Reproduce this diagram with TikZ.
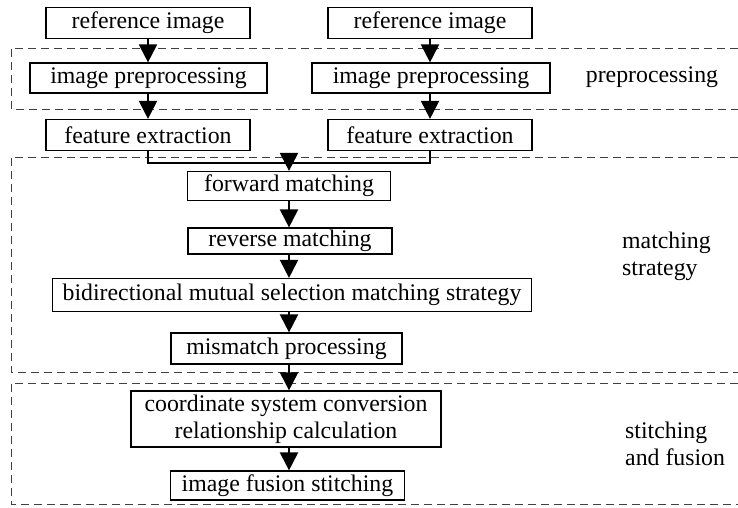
\documentclass[tikz,border=0pt]{standalone}
\usepackage{fontspec}
\setmainfont{Liberation Serif}
\usetikzlibrary{arrows.meta}
\begin{document}
\begin{tikzpicture}[x=1pt,y=-1pt,
  font=\fontsize{23.8}{27}\selectfont,
  box/.style={draw=black,line width=1.2pt,inner sep=0pt,align=center},
  arr/.style={line width=2pt,-{Triangle[length=18pt,width=18pt]}},
  grp/.style={draw=black!75,line width=1pt,dash pattern=on 8pt off 5pt},
  lbl/.style={inner sep=0pt,align=left}]
\useasboundingbox (0,0) rectangle (738,507);
% group frames
\draw[grp] (738,48) -- (11,48) -- (11,109) -- (738,109);
\draw[grp] (738,157) -- (11,157) -- (11,372) -- (738,372);
\draw[grp] (738,383) -- (11,383) -- (11,504) -- (738,504);
% nodes
\node[box,minimum width=204pt,minimum height=31pt] (refL) at (148,23) {reference image};
\node[box,minimum width=204pt,minimum height=31pt] (refR) at (430,23) {reference image};
\node[box,fill=white,minimum width=237pt,minimum height=30pt] (preL) at (148.5,78) {image preprocessing};
\node[box,fill=white,minimum width=238pt,minimum height=30pt] (preR) at (431,78) {image preprocessing};
\node[box,minimum width=204pt,minimum height=31pt] (featL) at (148,135) {feature extraction};
\node[box,minimum width=204pt,minimum height=31pt] (featR) at (430,135) {feature extraction};
\node[box,minimum width=203pt,minimum height=29pt] (fwd) at (289,186) {forward matching};
\node[box,minimum width=204pt,minimum height=26pt] (rev) at (290,241) {reverse matching};
\node[box,minimum width=479pt,minimum height=33pt] (bid) at (292,295) {bidirectional mutual selection matching strategy};
\node[box,minimum width=231pt,minimum height=31pt] (mis) at (286.5,348.5) {mismatch processing};
\node[box,minimum width=310pt,minimum height=56pt] (coord) at (286,419) {coordinate system conversion\\relationship calculation};
\node[box,minimum width=234pt,minimum height=29pt] (fuse) at (287.5,485.5) {image fusion stitching};
% labels
\node[lbl] (l1) at (652,77) {preprocessing};
\node[lbl,anchor=west] (l2) at (622,256) {matching\\strategy};
\node[lbl,anchor=west] (l3) at (625,444) {stitching\\and fusion};
% connectors
\coordinate (axis) at (289,0);
\coordinate (merge) at (289,163);
\draw[arr] (refL.south) -- (preL.north -| refL.south);
\draw[arr] (refR.south) -- (preR.north -| refR.south);
\draw[arr] (preL.south -| refL.south) -- (featL.north);
\draw[arr] (preR.south -| refR.south) -- (featR.north);
\draw[line width=1.5pt] (featL.south) -- (featL.south |- merge) -- (featR.south |- merge) -- (featR.south);
\draw[arr] (merge) -- (fwd.north -| merge);
\draw[arr] (fwd.south -| axis) -- (rev.north -| axis);
\draw[arr] (rev.south -| axis) -- (bid.north -| axis);
\draw[arr] (bid.south -| axis) -- (mis.north -| axis);
\draw[arr] (mis.south -| axis) -- (coord.north -| axis);
\draw[arr] (coord.south -| axis) -- (fuse.north -| axis);
\end{tikzpicture}
\end{document}
